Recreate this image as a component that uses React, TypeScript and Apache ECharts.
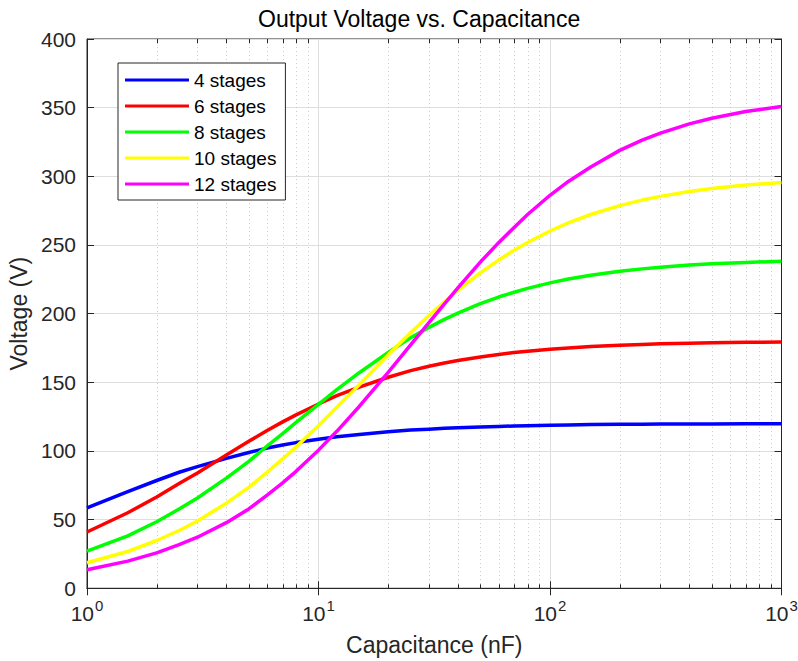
import React, { useEffect, useRef } from "react";
import * as echarts from "echarts";

// Capacitance sample points (nF)
const capacitance = [1, 1.5, 2, 2.5, 3, 4, 5, 6, 7, 8, 10, 12, 15, 20, 25, 30, 35, 40, 50, 60, 70, 80, 100, 120, 150, 200, 250, 300, 400, 500, 700, 1000];

// Output voltage (V) for each multiplier length
const stages4 = [58.5, 70.4, 78.5, 84.5, 88.6, 94.6, 98.9, 102.1, 104.3, 106.1, 108.5, 110.3, 112.0, 114.0, 115.2, 115.9, 116.5, 116.9, 117.5, 117.9, 118.2, 118.4, 118.8, 119.0, 119.2, 119.4, 119.5, 119.6, 119.7, 119.7, 119.8, 119.9];
const stages6 = [41.0, 55.0, 66.5, 76.3, 84.0, 97.0, 107.0, 114.9, 121.2, 126.3, 134.2, 140.3, 146.5, 153.7, 158.5, 161.7, 164.1, 165.9, 168.5, 170.3, 171.7, 172.7, 174.1, 175.0, 176.0, 177.0, 177.6, 178.0, 178.5, 178.8, 179.1, 179.4];
const stages8 = [27.1, 38.2, 48.5, 57.7, 65.8, 80.2, 92.4, 103.6, 112.7, 120.8, 134.0, 144.7, 157.0, 171.8, 182.4, 190.0, 195.8, 200.4, 207.3, 212.1, 215.6, 218.4, 222.4, 225.2, 228.0, 230.9, 232.6, 233.8, 235.4, 236.3, 237.3, 238.1];
const stages10 = [18.6, 26.8, 34.8, 42.1, 49.0, 62.0, 73.5, 84.5, 94.2, 103.0, 118.4, 131.9, 148.3, 170.0, 186.1, 198.7, 208.7, 217.0, 229.7, 239.0, 246.2, 251.8, 260.2, 266.1, 272.2, 278.7, 282.7, 285.4, 288.9, 291.1, 293.6, 295.5];
const stages12 = [13.5, 19.8, 25.8, 31.8, 37.2, 47.8, 57.8, 67.9, 76.8, 85.2, 100.6, 114.3, 132.4, 157.2, 177.2, 193.5, 207.2, 218.8, 237.5, 251.7, 262.8, 272.2, 286.2, 296.3, 306.8, 318.9, 326.3, 331.5, 338.2, 342.3, 347.2, 350.9];

const seriesNames = ["4 stages", "6 stages", "8 stages", "10 stages", "12 stages"];
const seriesValues = [stages4, stages6, stages8, stages10, stages12];
const seriesColors = ["#0000ff", "#ff0000", "#00ff00", "#ffff00", "#ff00ff"];

// Minor decade positions for the dotted log grid
const minorGridValues = [2, 3, 4, 5, 6, 7, 8, 9, 20, 30, 40, 50, 60, 70, 80, 90, 200, 300, 400, 500, 600, 700, 800, 900];

const xMin = 1;
const xMax = 1000;
const yMin = 0;
const yMax = 400;
const yInterval = 50;

const FONT = "'Liberation Sans', Arial, Helvetica, sans-serif";
const AXIS_COLOR = "#262626";

export default function App() {
  const ref = useRef<HTMLDivElement>(null);

  useEffect(() => {
    if (!ref.current) return;
    const chart = echarts.init(ref.current, undefined, { renderer: "svg" });

    const lineSeries = seriesNames.map((name, i) => ({
      name,
      type: "line",
      xAxisIndex: 0,
      yAxisIndex: 0,
      data: capacitance.map((c, j) => [c, seriesValues[i][j]]),
      showSymbol: false,
      smooth: false,
      itemStyle: { color: seriesColors[i] },
      lineStyle: { color: seriesColors[i], width: 3.5, join: "round" },
      z: 3,
    }));

    const minorGrid = {
      type: "custom",
      xAxisIndex: 0,
      yAxisIndex: 0,
      silent: true,
      z: 1,
      data: minorGridValues.map((v) => [v, 0]),
      renderItem: (_params: any, api: any) => {
        const v = api.value(0);
        const top = api.coord([v, yMax]);
        const bottom = api.coord([v, yMin]);
        const x = Math.round(top[0]) + 0.5;
        return {
          type: "group",
          children: [
            {
              type: "line",
              shape: { x1: x, y1: top[1], x2: x, y2: bottom[1] },
              style: { stroke: "#cccccc", lineWidth: 1, lineDash: [1, 3] },
            },
            {
              type: "line",
              shape: { x1: x, y1: bottom[1], x2: x, y2: bottom[1] - 4 },
              style: { stroke: AXIS_COLOR, lineWidth: 1 },
            },
            {
              type: "line",
              shape: { x1: x, y1: top[1], x2: x, y2: top[1] + 4 },
              style: { stroke: AXIS_COLOR, lineWidth: 1 },
            },
          ],
        };
      },
    };

    chart.setOption({
      animation: false,
      textStyle: { fontFamily: FONT },
      title: {
        text: "Output Voltage vs. Capacitance",
        left: 258,
        top: 7,
        padding: 0,
        textStyle: { fontSize: 23, fontWeight: "normal", color: "#000", fontFamily: FONT },
      },
      legend: {
        data: seriesNames,
        orient: "vertical",
        left: 118,
        top: 63,
        icon: "rect",
        itemWidth: 64,
        itemHeight: 3,
        itemGap: 6,
        padding: [7, 9, 6, 7],
        backgroundColor: "#ffffff",
        borderColor: AXIS_COLOR,
        borderWidth: 1,
        textStyle: { fontSize: 19, color: "#000", lineHeight: 20, fontFamily: FONT },
        selectedMode: false,
      },
      grid: {
        left: 87,
        right: 16.5,
        top: 39,
        bottom: 72.7,
        show: true,
        borderColor: AXIS_COLOR,
        borderWidth: 1,
        backgroundColor: "#ffffff",
        containLabel: false,
        outerBoundsMode: "none",
      },
      xAxis: [
        {
          type: "log",
          logBase: 10,
          min: xMin,
          max: xMax,
          position: "bottom",
          name: "Capacitance (nF)",
          nameLocation: "middle",
          nameGap: 45,
          nameTextStyle: { fontSize: 23, color: AXIS_COLOR, fontFamily: FONT },
          axisLine: { show: true, lineStyle: { color: AXIS_COLOR, width: 1 } },
          axisTick: { show: true, inside: true, length: 7, lineStyle: { color: AXIS_COLOR } },
          splitLine: { show: true, lineStyle: { color: "#dedede", width: 1 } },
          axisLabel: {
            margin: 10,
            color: AXIS_COLOR,
            fontSize: 21,
            formatter: (v: number) => `{base|10}{sup|${Math.round(Math.log10(v))}}`,
            rich: {
              base: { fontSize: 21, color: AXIS_COLOR, fontFamily: FONT },
              sup: { fontSize: 15, color: AXIS_COLOR, fontFamily: FONT, padding: [0, 0, 16, 1] },
            },
          },
        },
        {
          type: "log",
          logBase: 10,
          min: xMin,
          max: xMax,
          position: "top",
          axisLine: { show: true, lineStyle: { color: AXIS_COLOR, width: 1 } },
          axisTick: { show: true, inside: true, length: 7, lineStyle: { color: AXIS_COLOR } },
          axisLabel: { show: false },
          splitLine: { show: false },
        },
      ],
      yAxis: [
        {
          type: "value",
          min: yMin,
          max: yMax,
          interval: yInterval,
          position: "left",
          name: "Voltage (V)",
          nameLocation: "middle",
          nameGap: 52,
          nameTextStyle: { fontSize: 23, color: AXIS_COLOR, fontFamily: FONT },
          axisLine: { show: true, lineStyle: { color: AXIS_COLOR, width: 1 } },
          axisTick: { show: true, inside: true, length: 7, lineStyle: { color: AXIS_COLOR } },
          splitLine: { show: true, lineStyle: { color: "#dedede", width: 1 } },
          axisLabel: { margin: 11, color: AXIS_COLOR, fontSize: 21, fontFamily: FONT },
        },
        {
          type: "value",
          min: yMin,
          max: yMax,
          interval: yInterval,
          position: "right",
          axisLine: { show: true, lineStyle: { color: AXIS_COLOR, width: 1 } },
          axisTick: { show: true, inside: true, length: 7, lineStyle: { color: AXIS_COLOR } },
          axisLabel: { show: false },
          splitLine: { show: false },
        },
      ],
      series: [minorGrid, ...lineSeries],
    });

    return () => chart.dispose();
  }, []);

  return (
    <div
      ref={ref}
      style={{ position: "fixed", left: 0, top: 0, width: 798, height: 661, background: "#ffffff" }}
    />
  );
}
